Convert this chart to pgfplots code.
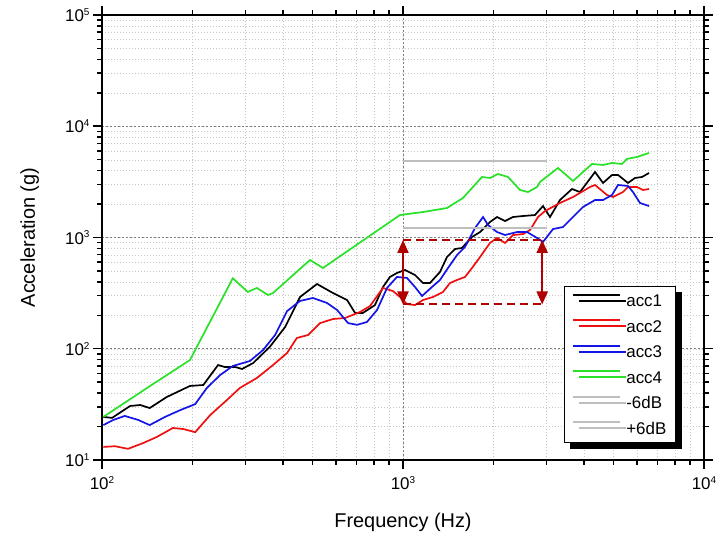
\documentclass[border=0pt]{standalone}
\usepackage{pgfplots}
\pgfplotsset{compat=1.18}
\usepackage{fontspec}
\setmainfont{Liberation Sans}
\usetikzlibrary{arrows.meta,shadows}

\definecolor{cred}{RGB}{240,15,15}
\definecolor{cblue}{RGB}{20,20,230}
\definecolor{cgreen}{RGB}{40,225,40}
\definecolor{cgray}{RGB}{190,190,190}
\definecolor{darkred}{RGB}{176,0,0}

\newcommand{\tl}[1]{\fontsize{17}{20}\selectfont 10\raisebox{0.7ex}{\fontsize{10}{10}\selectfont #1}}
\newcommand{\lf}{\fontsize{17}{20}\selectfont}

\begin{document}
\begin{tikzpicture}
\path[use as bounding box] (-102bp,-85bp) rectangle (624bp,460bp);
\begin{axis}[
  xmode=log, ymode=log,
  scale only axis, width=602bp, height=445bp,
  xmin=100, xmax=10000, ymin=10, ymax=100000,
  xtick={100,1000,10000},
  xticklabels={\tl{2},\tl{3},\tl{4}},
  xticklabel style={yshift=-4bp},
  ytick={10,100,1000,10000,100000},
  yticklabels={\tl{1},\tl{2},\tl{3},\tl{4},\tl{5}},
  grid=both,
  major grid style={gray, line width=0.5bp, dash pattern=on 2bp off 2bp},
  minor grid style={gray!45, line width=0.4bp, dash pattern=on 1bp off 2bp},
  tick align=outside,
  major tick length=9bp, minor tick length=5bp,
  axis line style={line width=1.8bp},
  every tick/.style={black, line width=1.5bp},
  every axis x label/.style={at={(axis description cs:0.5,0)}, anchor=center, yshift=-62bp},
  every axis y label/.style={at={(axis description cs:-0.12,0.5)}, rotate=90, anchor=center},
  xlabel={Frequency (Hz)},
  ylabel={Acceleration (g)},
  label style={font=\fontsize{20}{24}\selectfont},
  legend cell align=left,
  legend image code/.code={\draw[#1] (0bp,6bp) -- (47bp,6bp);},
  legend style={at={(0.767,0.038)}, anchor=south west,
    draw=black, line width=0.8bp, fill=white,
    inner xsep=8bp, inner ysep=6.5bp, row sep=9.5bp, column sep=4bp,
    nodes={inner sep=1.5bp, text height=12.5bp, text depth=0.5bp},
    drop shadow={shadow xshift=6bp, shadow yshift=-6bp, fill=black, opacity=1}},
]
\addplot[black, line width=1.7bp] coordinates {
(101,24.4) (108,23.9) (124,30.6) (134,31.2) (144,29.3) (164,36.8) (196,46.3) (217,47.2)
(243,71.4) (256,68.5) (277,68.5) (292,65.8) (318,74.5) (361,104) (406,157) (455,292)
(518,382) (585,317) (652,274) (693,210) (736,210) (807,247) (858,359) (905,442) (955,480)
(1015,510) (1096,460) (1165,390) (1229,390) (1327,490) (1400,668) (1489,788) (1570,805)
(1695,1010) (1803,1120) (1945,1377) (2053,1528) (2183,1406) (2320,1528) (2505,1560)
(2745,1592) (2918,1919) (3079,1528) (3323,2172) (3643,2729) (3873,2563) (4345,3881)
(4618,3091) (4948,3648) (5180,3648) (5591,3091) (5898,3428) (6223,3499) (6567,3802)};
\addlegendentry{\lf acc1}
\addplot[cred, line width=1.7bp] coordinates {
(101,13.1) (110.5,13.3) (122,12.6) (137,14.2) (152,16.1) (172,19.4) (186,19.0) (204,17.8)
(229,25.4) (260,34.6) (287,44.4) (327,54.6) (370,71.4) (412,91.6) (444,125) (484,133)
(530,170) (585,185) (642,189) (720,214) (777,242) (858,352) (926,330) (977,292) (1031,252)
(1096,247) (1165,274) (1258,292) (1358,324) (1433,390) (1512,415) (1607,442) (1695,532)
(1803,668) (1945,893) (2053,991) (2183,893) (2320,1052) (2505,1074) (2642,1167)
(2809,1528) (2964,1730) (3323,2043) (3671,2312) (4182,2844) (4345,2965) (4761,2410)
(4986,2312) (5382,2563) (5591,2844) (5989,2844) (6270,2673) (6567,2729)};
\addlegendentry{\lf acc2}
\addplot[cblue, line width=1.7bp] coordinates {
(101,20.6) (109,22.9) (119,24.9) (132,22.9) (144,20.6) (162,24.4) (182,28.1) (204,31.8)
(223,44.4) (247,58.1) (272,70.0) (310,77.6) (343,97.4) (376,133) (412,218) (455,269)
(502,286) (559,258) (604,223) (657,170) (704,164) (759,174) (820,223) (885,352) (955,442)
(1031,433) (1096,359) (1157,298) (1248,359) (1327,415) (1411,532) (1512,696) (1607,822)
(1735,1217) (1845,1528) (1916,1295) (2053,1120) (2183,1052) (2392,1120) (2582,1120)
(2788,991) (2918,912) (3151,1191) (3401,1242) (3671,1528) (3963,1880) (4345,2172)
(4618,2172) (4948,2410) (5180,2965) (5591,2904) (5808,2563) (6128,2043) (6567,1919)};
\addlegendentry{\lf acc3}
\addplot[cgreen, line width=1.7bp] coordinates {
(101,24.4) (144,46) (196,79.2) (272,430) (305,324) (327,352) (356,304) (370,317)
(491,628) (542,532) (977,1592) (1165,1694) (1400,1841) (1582,2265) (1830,3499)
(1945,3428) (2068,3724) (2233,3499) (2448,2673) (2602,2563) (2788,2844) (2852,3155)
(3273,4217) (3671,3221) (4247,4581) (4618,4487) (4948,4677) (5340,4581) (5548,5081)
(5989,5297) (6270,5521) (6567,5754)};
\addlegendentry{\lf acc4}
\addplot[cgray, line width=1.7bp] coordinates {(1000,1220) (3000,1220)};
\addlegendentry{\lf -6dB}
\addplot[cgray, line width=1.7bp] coordinates {(1000,4900) (3000,4900)};
\addlegendentry{\lf +6dB}
% red markers for the -12 dB band
\addplot[darkred, line width=2bp, dash pattern=on 8bp off 5bp, forget plot] coordinates {(1000,950) (2900,950)};
\addplot[darkred, line width=2bp, dash pattern=on 8bp off 5bp, forget plot] coordinates {(1000,250) (2900,250)};
\addplot[darkred, line width=2bp, {Triangle[width=11bp,length=13bp]}-{Triangle[width=11bp,length=13bp]}, forget plot] coordinates {(1000,250) (1000,950)};
\addplot[darkred, line width=2bp, {Triangle[width=11bp,length=13bp]}-{Triangle[width=11bp,length=13bp]}, forget plot] coordinates {(2900,250) (2900,950)};
\end{axis}
\end{tikzpicture}
\end{document}
